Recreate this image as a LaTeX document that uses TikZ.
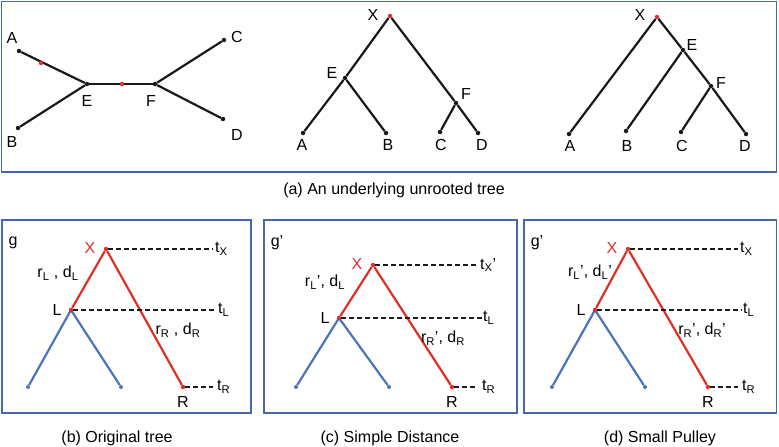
\documentclass[tikz,border=0pt]{standalone}
\usepackage{fontspec}
\setmainfont{Liberation Sans}
\usepackage{xcolor}
\definecolor{colorbox}{RGB}{70,104,172}
\definecolor{colorred}{RGB}{222,48,38}
\definecolor{colorblue}{RGB}{76,116,190}
\definecolor{colorn}{RGB}{25,25,25}
\usepackage{tikz}
\usetikzlibrary{calc}
\tikzstyle{panel} = [draw=colorbox, line width=1.6pt]
\tikzstyle{dot} = [circle, fill=colorn, inner sep=0pt, minimum size=4.5pt]
\tikzstyle{reddot} = [circle, fill=colorred, inner sep=0pt, minimum size=4.5pt]
\tikzstyle{bluedot} = [circle, fill=colorblue, inner sep=0pt, minimum size=4pt]
\tikzstyle{branch} = [draw=colorn, line width=2.2pt]
\tikzstyle{redbranch} = [draw=colorred, line width=2.2pt]
\tikzstyle{bluebranch} = [draw=colorblue, line width=2.2pt]
\tikzstyle{tline} = [draw=colorn, line width=1.2pt, dash pattern=on 5pt off 3pt]
\tikzstyle{lab} = [inner sep=0pt, font=\fontsize{16}{19}\selectfont]
\tikzstyle{redlab} = [lab, text=colorred]
\tikzstyle{caption} = [inner sep=0pt, font=\fontsize{16}{19}\selectfont]

\begin{document}
\begin{tikzpicture}[x=1pt,y=-1pt]
  \useasboundingbox (0,0) rectangle (779,447);

  % frames
  \draw[panel] (1.5,1.5) rectangle (776.5,172);
  \draw[panel] (2,220) rectangle (251,413);
  \draw[panel] (264,220) rectangle (517,413);
  \draw[panel] (524,220) rectangle (776.5,413);

  \node[caption] (capa) at (394,190) {(a) An underlying unrooted tree};
  \node[caption] (capb) at (117,438) {(b) Original tree};
  \node[caption] (capc) at (390,438) {(c) Simple Distance};
  \node[caption] (capd) at (660,438) {(d) Small Pulley};

  %unrooted tree
  \node[dot] (uA) at (19,51) {};
  \node[dot] (uB) at (18,128) {};
  \node[dot] (uE) at (87,84) {};
  \node[dot] (uF) at (155,84) {};
  \node[dot] (uC) at (224,40) {};
  \node[dot] (uD) at (223,119) {};
  \draw[branch] (uA) -- (uE);
  \draw[branch] (uB) -- (uE);
  \draw[branch] (uE) -- (uF);
  \draw[branch] (uF) -- (uC);
  \draw[branch] (uF) -- (uD);
  \node[reddot] (uR1) at (41,63) {};
  \node[reddot] (uR2) at (122,84) {};
  \node[lab] (luA) at (12,38) {A};
  \node[lab] (luB) at (12,142) {B};
  \node[lab] (luE) at (87,101) {E};
  \node[lab] (luF) at (151,101) {F};
  \node[lab] (luC) at (237,37) {C};
  \node[lab] (luD) at (237,135) {D};

  %rooted on E--F
  \node[reddot] (mX) at (390,16) {};
  \node[dot] (mE) at (345,78) {};
  \node[dot] (mF) at (456,103) {};
  \node[dot] (mA) at (303,133) {};
  \node[dot] (mB) at (386,133) {};
  \node[dot] (mC) at (440,132) {};
  \node[dot] (mD) at (478,133) {};
  \draw[branch] (mX) -- (mE);
  \draw[branch] (mX) -- (mF);
  \draw[branch] (mE) -- (mA);
  \draw[branch] (mE) -- (mB);
  \draw[branch] (mF) -- (mC);
  \draw[branch] (mF) -- (mD);
  \node[lab] (lmX) at (373,15) {X};
  \node[lab] (lmE) at (332,73) {E};
  \node[lab] (lmF) at (466,94) {F};
  \node[lab] (lmA) at (302,145) {A};
  \node[lab] (lmB) at (388,145) {B};
  \node[lab] (lmC) at (441,145) {C};
  \node[lab] (lmD) at (482,145) {D};

  %rooted on A
  \node[reddot] (rX) at (657,17) {};
  \node[dot] (rE) at (683,50) {};
  \node[dot] (rF) at (711,86) {};
  \node[dot] (rA) at (569,134) {};
  \node[dot] (rB) at (626,131) {};
  \node[dot] (rC) at (681,132) {};
  \node[dot] (rD) at (746,134) {};
  \draw[branch] (rX) -- (rA);
  \draw[branch] (rX) -- (rE);
  \draw[branch] (rE) -- (rB);
  \draw[branch] (rE) -- (rF);
  \draw[branch] (rF) -- (rC);
  \draw[branch] (rF) -- (rD);
  \node[lab] (lrX) at (640,15) {X};
  \node[lab] (lrE) at (692,45) {E};
  \node[lab] (lrF) at (721,83) {F};
  \node[lab] (lrA) at (570,146) {A};
  \node[lab] (lrB) at (627,146) {B};
  \node[lab] (lrC) at (682,146) {C};
  \node[lab] (lrD) at (745,146) {D};

  % (b), (c), (d): X, L, R and the two leaves
  \foreach \p/\xx/\yx/\xl/\yl/\xa/\xb/\xr/\te in
      {b/106/249/71/310/28/121/183/213,
       c/373/265/339/318/296/389/452/478,
       d/628/249/595/310/552/645/708/738}{
    \node[bluedot] (\p a) at (\xa,387) {};
    \node[bluedot] (\p b) at (\xb,387) {};
    \draw[bluebranch] (\xl,\yl) -- (\p a);
    \draw[bluebranch] (\xl,\yl) -- (\p b);
    \node[reddot] (\p X) at (\xx,\yx) {};
    \node[reddot] (\p L) at (\xl,\yl) {};
    \node[reddot] (\p R) at (\xr,387) {};
    \draw[redbranch] (\p X) -- (\p L);
    \draw[redbranch] (\p X) -- (\p R);
    \coordinate (\p tx) at (\te,\yx);
    \coordinate (\p tl) at (\te+4,\yl);
    \coordinate (\p tr) at (\te,387);
    \draw[tline] (\p X) -- (\p tx);
    \draw[tline] (\p L) -- (\p tl);
    \draw[tline] (\p R) -- (\p tr);
    \node[redlab] (\p lX) at (\xx-16,\yx-1) {X};
    \node[lab] (\p lL) at (\xl-14,\yl) {L};
    \node[lab] (\p lR) at (\xr,402) {R};
  }

  \node[lab] (bg) at (13,243) {g};
  \node[lab, anchor=west] (btx) at ([xshift=2pt]btx) {t\textsubscript{X}};
  \node[lab, anchor=west] (btl) at ([xshift=1pt]btl) {t\textsubscript{L}};
  \node[lab, anchor=west] (btr) at ([xshift=4pt]btr) {t\textsubscript{R}};
  \node[lab] (brl) at (58,273) {r\textsubscript{L} , d\textsubscript{L}};
  \node[lab] (brr) at (178,330) {r\textsubscript{R} , d\textsubscript{R}};

  \node[lab] (cg) at (277,243) {g'};
  \node[lab, anchor=west] (ctx) at ([xshift=2pt]ctx) {t\textsubscript{X}'};
  \node[lab, anchor=west] (ctl) at ([xshift=1pt]ctl) {t\textsubscript{L}};
  \node[lab, anchor=west] (ctr) at ([xshift=4pt]ctr) {t\textsubscript{R}};
  \node[lab] (crl) at (325,282) {r\textsubscript{L}', d\textsubscript{L}};
  \node[lab] (crr) at (443,338) {r\textsubscript{R}', d\textsubscript{R}};

  \node[lab] (dg) at (537,243) {g'};
  \node[lab, anchor=west] (dtx) at ([xshift=2pt]dtx) {t\textsubscript{X}};
  \node[lab, anchor=west] (dtl) at ([xshift=1pt]dtl) {t\textsubscript{L}};
  \node[lab, anchor=west] (dtr) at ([xshift=4pt]dtr) {t\textsubscript{R}};
  \node[lab] (drl) at (590,272) {r\textsubscript{L}', d\textsubscript{L}'};
  \node[lab] (drr) at (702,330) {r\textsubscript{R}', d\textsubscript{R}'};
\end{tikzpicture}
\end{document}
